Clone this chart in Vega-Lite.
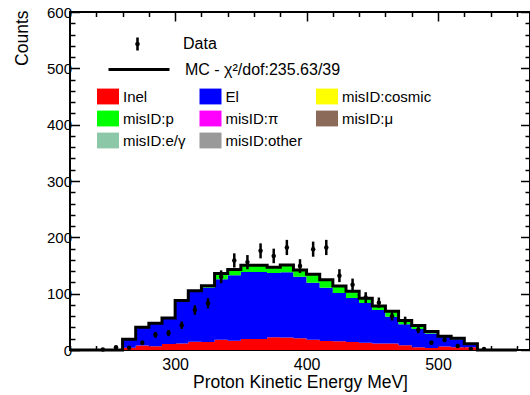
{
"$schema": "https://vega.github.io/schema/vega-lite/v6.json",
"width": 460, "height": 338,
"autosize": {"type": "none"},
"padding": {"left": 70, "top": 12, "right": 0, "bottom": 45},
"background": "white",
"config": {
 "font": "Liberation Sans",
 "view": {"stroke": "black", "strokeWidth": 2},
 "axis": {"grid": false, "domain": false, "tickColor": "black", "labelColor": "black", "titleColor": "black", "titleFontWeight": "normal", "labelFont": "Liberation Sans", "titleFont": "Liberation Sans"},
 "legend": {"labelFont": "Liberation Sans", "labelColor": "black", "labelLimit": 400}
},
"datasets": {
 "mc": [
  {"lo":220,"hi":230,"comp":"Inel","n":0},{"lo":230,"hi":240,"comp":"Inel","n":0},{"lo":240,"hi":250,"comp":"Inel","n":0},{"lo":250,"hi":260,"comp":"Inel","n":0},
  {"lo":260,"hi":270,"comp":"Inel","n":4},{"lo":260,"hi":270,"comp":"El","n":14},{"lo":260,"hi":270,"comp":"misID:p","n":1},
  {"lo":270,"hi":280,"comp":"Inel","n":8},{"lo":270,"hi":280,"comp":"El","n":32},{"lo":270,"hi":280,"comp":"misID:p","n":0.5},
  {"lo":280,"hi":290,"comp":"Inel","n":6.5},{"lo":280,"hi":290,"comp":"El","n":40.5},{"lo":280,"hi":290,"comp":"misID:p","n":0.5},
  {"lo":290,"hi":300,"comp":"Inel","n":10.5},{"lo":290,"hi":300,"comp":"El","n":45.5},{"lo":290,"hi":300,"comp":"misID:p","n":1},
  {"lo":300,"hi":310,"comp":"Inel","n":11.5},{"lo":300,"hi":310,"comp":"El","n":76},{"lo":300,"hi":310,"comp":"misID:p","n":0.5},
  {"lo":310,"hi":320,"comp":"Inel","n":14.5},{"lo":310,"hi":320,"comp":"El","n":89.5},{"lo":310,"hi":320,"comp":"misID:p","n":1},
  {"lo":320,"hi":330,"comp":"Inel","n":14},{"lo":320,"hi":330,"comp":"El","n":97},{"lo":320,"hi":330,"comp":"misID:p","n":3},
  {"lo":330,"hi":340,"comp":"Inel","n":18},{"lo":330,"hi":340,"comp":"El","n":107.5},{"lo":330,"hi":340,"comp":"misID:p","n":10.5},
  {"lo":340,"hi":350,"comp":"Inel","n":16.5},{"lo":340,"hi":350,"comp":"El","n":116},{"lo":340,"hi":350,"comp":"misID:p","n":10.5},
  {"lo":350,"hi":360,"comp":"Inel","n":19.5},{"lo":350,"hi":360,"comp":"El","n":119},{"lo":350,"hi":360,"comp":"misID:p","n":12},
  {"lo":360,"hi":370,"comp":"Inel","n":19.5},{"lo":360,"hi":370,"comp":"El","n":119},{"lo":360,"hi":370,"comp":"misID:p","n":12},
  {"lo":370,"hi":380,"comp":"Inel","n":22.5},{"lo":370,"hi":380,"comp":"El","n":114},{"lo":370,"hi":380,"comp":"misID:p","n":10.5},
  {"lo":380,"hi":390,"comp":"Inel","n":22},{"lo":380,"hi":390,"comp":"El","n":116},{"lo":380,"hi":390,"comp":"misID:p","n":13},
  {"lo":390,"hi":400,"comp":"Inel","n":21},{"lo":390,"hi":400,"comp":"El","n":109},{"lo":390,"hi":400,"comp":"misID:p","n":12},
  {"lo":400,"hi":410,"comp":"Inel","n":18},{"lo":400,"hi":410,"comp":"El","n":101.5},{"lo":400,"hi":410,"comp":"misID:p","n":15},
  {"lo":410,"hi":420,"comp":"Inel","n":16},{"lo":410,"hi":420,"comp":"El","n":94.5},{"lo":410,"hi":420,"comp":"misID:p","n":14},
  {"lo":420,"hi":430,"comp":"Inel","n":15.5},{"lo":420,"hi":430,"comp":"El","n":85.5},{"lo":420,"hi":430,"comp":"misID:p","n":12.5},
  {"lo":430,"hi":440,"comp":"Inel","n":14},{"lo":430,"hi":440,"comp":"El","n":78.5},{"lo":430,"hi":440,"comp":"misID:p","n":12},
  {"lo":440,"hi":450,"comp":"Inel","n":13},{"lo":440,"hi":450,"comp":"El","n":70.5},{"lo":440,"hi":450,"comp":"misID:p","n":8.5},
  {"lo":450,"hi":460,"comp":"Inel","n":11.5},{"lo":450,"hi":460,"comp":"El","n":59.5},{"lo":450,"hi":460,"comp":"misID:p","n":7},
  {"lo":460,"hi":470,"comp":"Inel","n":11.5},{"lo":460,"hi":470,"comp":"El","n":47.5},{"lo":460,"hi":470,"comp":"misID:p","n":10},
  {"lo":470,"hi":480,"comp":"Inel","n":8.5},{"lo":470,"hi":480,"comp":"El","n":37},{"lo":470,"hi":480,"comp":"misID:p","n":7},
  {"lo":480,"hi":490,"comp":"Inel","n":5},{"lo":480,"hi":490,"comp":"El","n":32.5},{"lo":480,"hi":490,"comp":"misID:p","n":6},
  {"lo":490,"hi":500,"comp":"Inel","n":3.5},{"lo":490,"hi":500,"comp":"El","n":26},{"lo":490,"hi":500,"comp":"misID:p","n":3.5},
  {"lo":500,"hi":510,"comp":"Inel","n":6},{"lo":500,"hi":510,"comp":"El","n":17.5},{"lo":500,"hi":510,"comp":"misID:p","n":1},
  {"lo":510,"hi":520,"comp":"Inel","n":5},{"lo":510,"hi":520,"comp":"El","n":14},{"lo":510,"hi":520,"comp":"misID:p","n":2},
  {"lo":520,"hi":530,"comp":"Inel","n":5},{"lo":520,"hi":530,"comp":"El","n":4.5},{"lo":520,"hi":530,"comp":"misID:p","n":1.5},
  {"lo":530,"hi":540,"comp":"Inel","n":0},{"lo":530,"hi":540,"comp":"El","n":0},{"lo":530,"hi":540,"comp":"misID:p","n":0},
  {"lo":540,"hi":550,"comp":"Inel","n":0},{"lo":550,"hi":560,"comp":"Inel","n":0},{"lo":560,"hi":570,"comp":"Inel","n":0}
 ],
 "pts": [
  {"E":245,"n":1,"err":1},{"E":255,"n":5,"err":2.2},{"E":265,"n":4,"err":2},{"E":275,"n":13,"err":3.6},
  {"E":285,"n":27,"err":5.2},{"E":295,"n":30,"err":5.5},{"E":305,"n":44,"err":6.6},{"E":315,"n":71,"err":8.4},
  {"E":325,"n":83,"err":9.1},{"E":335,"n":130,"err":11.4},{"E":345,"n":159,"err":12.6},{"E":355,"n":156,"err":12.5},
  {"E":365,"n":176,"err":13.3},{"E":375,"n":167,"err":12.9},{"E":385,"n":182,"err":13.5},{"E":395,"n":149,"err":12.2},
  {"E":405,"n":179,"err":13.4},{"E":415,"n":182,"err":13.5},{"E":425,"n":132,"err":11.5},{"E":435,"n":116,"err":10.8},
  {"E":445,"n":93,"err":9.6},{"E":455,"n":84,"err":9.2},{"E":465,"n":60,"err":7.7},{"E":475,"n":52,"err":7.2},
  {"E":485,"n":36,"err":6},{"E":495,"n":13,"err":3.6},{"E":505,"n":18,"err":4.2},{"E":515,"n":7,"err":2.6},
  {"E":525,"n":2,"err":1.4},{"E":535,"n":2,"err":1.4}
 ]
},
"resolve": {"axis": {"x": "independent", "y": "independent"}},
"layer": [
 {
  "data": {"name": "mc"},
  "transform": [{"calculate": "indexof(['Inel','El','misID:p'], datum.comp)", "as": "k"}],
  "mark": {"type": "area", "interpolate": "step-after", "strokeWidth": 0, "opacity": 1},
  "encoding": {
   "x": {"field": "lo", "type": "quantitative",
         "scale": {"domain": [220, 570], "nice": false, "zero": false},
         "axis": {"orient": "bottom", "values": [220,240,260,280,300,320,340,360,380,400,420,440,460,480,500,520,540,560],
                  "labelExpr": "datum.value % 100 === 0 ? datum.label : ''",
                  "tickSize": {"condition": {"test": "datum.value % 100 === 0", "value": -9}, "value": -4.5},
                  "tickWidth": 1.5, "labelFontSize": 16, "labelPadding": 15, "labelFlush": false, "labelOverlap": false,
                  "title": "Proton Kinetic Energy MeV]", "titleFontSize": 17.5, "titleX": 230, "titleY": 37,
                  "titleAlign": "center", "titleBaseline": "alphabetic"}},
   "y": {"field": "n", "type": "quantitative", "stack": "zero",
         "scale": {"domain": [0, 600], "nice": false},
         "axis": {"orient": "left", "values": [0,20,40,60,80,100,120,140,160,180,200,220,240,260,280,300,320,340,360,380,400,420,440,460,480,500,520,540,560,580,600],
                  "labelExpr": "datum.value % 100 === 0 ? datum.label : ''",
                  "tickSize": {"condition": {"test": "datum.value % 100 === 0", "value": -9.5}, "value": -5},
                  "tickWidth": 1.5, "labelFontSize": 15, "labelPadding": 8, "labelOverlap": false,
                  "title": "Counts", "titleFontSize": 17.5, "titleAngle": 270, "titleAlign": "right",
                  "titleBaseline": "alphabetic", "titleX": -43, "titleY": -2}},
   "color": {"field": "comp", "type": "nominal",
             "scale": {"domain": ["Inel","misID:p","misID:e/γ","El","misID:π","misID:other","misID:cosmic","misID:μ"],
                       "range": ["#ff0000","#00ff00","#8cc8a8","#0000ff","#ff00ff","#999999","#ffff00","#8c6a5a"]},
             "legend": {"orient": "none", "legendX": 27, "legendY": 73.5, "columns": 3, "title": null,
                        "symbolType": "M-1,-0.72H1V0.72H-1Z", "symbolSize": 484, "symbolStrokeWidth": 0, "symbolOpacity": 1,
                        "labelFontSize": 15, "labelOffset": 4, "columnPadding": 13.5, "rowPadding": 3,
                        "padding": 0, "gridAlign": "each"}},
   "order": {"field": "k", "type": "quantitative"}
  }
 },
 {
  "data": {"name": "mc"},
  "transform": [{"aggregate": [{"op": "sum", "field": "n", "as": "total"}], "groupby": ["lo"]}],
  "mark": {"type": "line", "interpolate": "step-after", "strokeWidth": 3},
  "encoding": {
   "x": {"field": "lo", "type": "quantitative",
         "axis": {"orient": "top", "values": [220,240,260,280,300,320,340,360,380,400,420,440,460,480,500,520,540,560],
                  "labels": false, "title": null,
                  "tickSize": {"condition": {"test": "datum.value % 100 === 0", "value": -9}, "value": -4.5},
                  "tickWidth": 1.5}},
   "y": {"field": "total", "type": "quantitative",
         "axis": {"orient": "right", "values": [0,20,40,60,80,100,120,140,160,180,200,220,240,260,280,300,320,340,360,380,400,420,440,460,480,500,520,540,560,580,600],
                  "labels": false, "title": null,
                  "tickSize": {"condition": {"test": "datum.value % 100 === 0", "value": -9.5}, "value": -5},
                  "tickWidth": 1.5}},
   "stroke": {"datum": "MC - χ²/dof:235.63/39", "scale": {"range": ["black"]},
              "legend": {"orient": "none", "legendX": 37, "legendY": 25.5, "title": null, "symbolType": "stroke",
                         "symbolSize": 3721, "symbolStrokeWidth": 3, "labelFontSize": 16, "labelOffset": 14, "padding": 0}}
  }
 },
 {
  "data": {"name": "pts"},
  "mark": {"type": "errorbar", "thickness": 2.5, "color": "black"},
  "encoding": {
   "x": {"field": "E", "type": "quantitative", "axis": null},
   "y": {"field": "n", "type": "quantitative", "axis": null},
   "yError": {"field": "err"}
  }
 },
 {
  "data": {"name": "pts"},
  "mark": {"type": "point", "filled": true, "size": 20, "opacity": 1},
  "encoding": {
   "x": {"field": "E", "type": "quantitative", "axis": null},
   "y": {"field": "n", "type": "quantitative", "axis": null},
   "fill": {"datum": "Data", "scale": {"range": ["black"]},
            "legend": {"orient": "none", "legendX": 59.5, "legendY": 24, "title": null,
                       "symbolType": "M-0.17,-0.87H0.17V0.87H-0.17Z M-0.3,0A0.3,0.35 0 1,1 0.3,0A0.3,0.35 0 1,1 -0.3,0Z",
                       "symbolSize": 225, "symbolStrokeWidth": 0, "labelFontSize": 16, "labelOffset": 37.5, "padding": 0}}
  }
 }
]
}
